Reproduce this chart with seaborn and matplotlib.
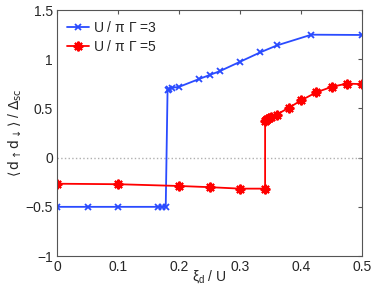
import matplotlib
matplotlib.use("Agg")
import matplotlib.pyplot as plt
import seaborn as sns
import pandas as pd

# U / pi Gamma = 3
xi_3 = [0, 0.05, 0.1, 0.165, 0.172, 0.178, 0.181, 0.184, 0.188, 0.2,
        0.233, 0.25, 0.267, 0.3, 0.333, 0.36, 0.417, 0.5]
val_3 = [-0.5, -0.5, -0.5, -0.5, -0.5, -0.5, 0.69, 0.70, 0.71, 0.72,
         0.80, 0.84, 0.88, 0.975, 1.07, 1.14, 1.25, 1.247]

# U / pi Gamma = 5
xi_5 = [0, 0.1, 0.2, 0.25, 0.3, 0.341, 0.341, 0.342, 0.344, 0.347, 0.35,
        0.36, 0.38, 0.4, 0.425, 0.45, 0.475, 0.5]
val_5 = [-0.265, -0.27, -0.288, -0.30, -0.315, -0.315, 0.37, 0.38, 0.39,
         0.40, 0.41, 0.438, 0.507, 0.582, 0.664, 0.719, 0.753, 0.747]

labels = [r"U / $\pi$ $\Gamma$ =3", r"U / $\pi$ $\Gamma$ =5"]

sns.set_style("white")
plt.rcParams["font.family"] = ["Liberation Sans", "DejaVu Sans"]
plt.rcParams["mathtext.fontset"] = "custom"
plt.rcParams["mathtext.rm"] = "Liberation Sans"
plt.rcParams["mathtext.it"] = "Liberation Sans"
plt.rcParams["mathtext.sf"] = "Liberation Sans"

df3 = pd.DataFrame({"xi": xi_3, "val": val_3})
df5 = pd.DataFrame({"xi": xi_5, "val": val_5})

fig = plt.figure(figsize=(3.74, 2.88), dpi=100)
ax = fig.add_axes([0.153, 0.111, 0.815, 0.854])

ax.axhline(0, color="#b0b0b0", linestyle=":", linewidth=1)
sns.lineplot(data=df3, x="xi", y="val", ax=ax, sort=False, estimator=None,
             color="#2a4bff", marker="x", markersize=5, markeredgewidth=1.3,
             markeredgecolor="#2a4bff", linewidth=1.3, label=labels[0])
sns.lineplot(data=df5, x="xi", y="val", ax=ax, sort=False, estimator=None,
             color="#ff0000", marker=(8, 2, 0), markersize=7, markeredgewidth=1.5,
             markeredgecolor="#ff0000", linewidth=1.3, label=labels[1])

ax.set_xlim(0, 0.5)
ax.set_ylim(-1, 1.5)
ax.set_xticks([0, 0.1, 0.2, 0.3, 0.4, 0.5])
ax.set_xticklabels(["0", "0.1", "0.2", "0.3", "0.4", "0.5"])
ax.set_yticks([-1, -0.5, 0, 0.5, 1, 1.5])
ax.set_yticklabels(["\u22121", "\u22120.5", "0", "0.5", "1", "1.5"])
ax.tick_params(direction="in", length=3, labelsize=10, color="#555555",
               top=True, right=True, pad=3)
for s in ax.spines.values():
    s.set_color("#555555")
    s.set_linewidth(0.8)

ax.set_xlabel(r"$\xi_d$ / U", fontsize=10, labelpad=-4)
ax.set_ylabel(r"$\langle\, \mathrm{d}_{\uparrow} \mathrm{d}_{\downarrow} \rangle$ / $\Delta_{\mathrm{sc}}$",
              fontsize=10, labelpad=2, math_fontfamily="dejavusans")

ax.legend(loc="upper left", frameon=False, fontsize=10, handlelength=1.6,
          handletextpad=0.3, borderaxespad=0.3, labelspacing=0.3)

fig.savefig("out.png", dpi=100)
